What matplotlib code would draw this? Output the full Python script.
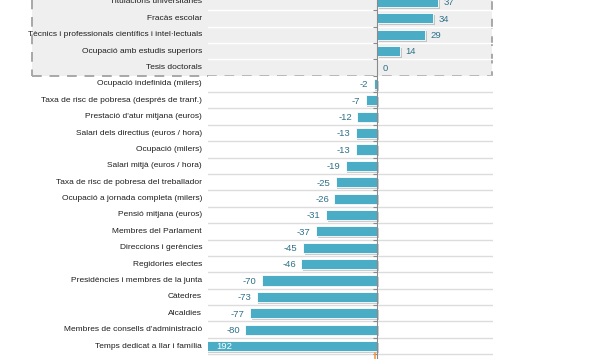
import matplotlib
matplotlib.use('Agg')
import matplotlib.pyplot as plt
import matplotlib.patheffects as pe
from matplotlib.patches import Rectangle
from matplotlib.transforms import blended_transform_factory

# Row labels, top to bottom
labels = [
    'Titulacions universitàries',
    'Fracàs escolar',
    'Tècnics i professionals científics i intel·lectuals',
    'Ocupació amb estudis superiors',
    'Tesis doctorals',
    'Ocupació indefinida (milers)',
    'Taxa de risc de pobresa (després de tranf.)',
    "Prestació d'atur mitjana (euros)",
    'Salari dels directius (euros / hora)',
    'Ocupació (milers)',
    'Salari mitjà (euros / hora)',
    'Taxa de risc de pobresa del treballador',
    'Ocupació a jornada completa (milers)',
    'Pensió mitjana (euros)',
    'Membres del Parlament',
    'Direccions i gerències',
    'Regidories electes',
    'Presidències i membres de la junta',
    'Càtedres',
    'Alcaldies',
    "Membres de consells d'administració",
    'Temps dedicat a llar i família',
]
values = [37, 34, 29, 14, 0, -2, -7, -12, -13, -13, -19, -25, -26, -31,
          -37, -45, -46, -70, -73, -77, -80, -192]
n_highlight = 5  # first rows inside the dashed box

BAR = '#4bacc6'
VAL = '#2f7189'
TXT = '#1e1e1e'
FONT = 'Liberation Sans'

W, H = 599, 359
fig = plt.figure(figsize=(W / 100, H / 100), dpi=100)
ax = fig.add_axes([208 / W, 0, (493 - 208) / W, 1])
ax.set_facecolor('none')

xmin, xmax = -102.5, 70.3
ax.set_xlim(xmin, xmax)
ax.set_ylim(21.79, -0.122)

# dashed highlight box (figure coords), drawn behind everything in the axes
box_bottom = 1 - 76 / H
box = Rectangle((32 / W, box_bottom), (492 - 32) / W, 1.1 - box_bottom,
                transform=fig.transFigure, facecolor='#efefef',
                edgecolor='#a8a8a8', linewidth=1.4, linestyle=(0, (5, 4)),
                zorder=0, clip_on=False)
ax.add_patch(box)

ys = list(range(len(labels)))

# row separators
for i in range(len(labels)):
    color = 'white' if i < n_highlight else '#dcdcdc'
    ax.axhline(i + 0.5, color=color, linewidth=1.0, zorder=1)

shadow = [pe.SimplePatchShadow(offset=(1.2, -1.2), shadow_rgbFace='#9a9a9a', alpha=0.5),
          pe.Normal()]
bars = ax.barh(ys, values, height=0.62, color=BAR, edgecolor='white',
               linewidth=0.6, zorder=3)
for b in bars:
    b.set_path_effects(shadow)

# zero axis
ax.spines[['top', 'right', 'bottom']].set_visible(False)
ax.spines['left'].set_position(('data', 0))
ax.spines['left'].set_color('#8a8a8a')
ax.spines['left'].set_zorder(4)
ax.set_yticks([i + 0.5 for i in range(len(labels))])
ax.set_yticklabels([])
ax.tick_params(axis='y', length=3, color='#8a8a8a', direction='out')
ax.set_xticks([])

# small orange marker at bottom of zero axis
ax.plot([-1.5, -1.5], [21.45, 21.79], color='#f39c4a', linewidth=1.2,
        zorder=5, clip_on=False)

trans = blended_transform_factory(fig.transFigure, ax.transData)
for y, lab in zip(ys, labels):
    ax.text(202 / W, y, lab, transform=trans, ha='right', va='center',
            fontsize=6.0, color=TXT, family=FONT, zorder=6)

for y, v in zip(ys, values):
    if v < xmin:
        ax.text(xmin + 5, y + 0.05, str(abs(v)), ha='left', va='center',
                fontsize=6.8, color='white', zorder=6, family=FONT)
    elif v >= 0:
        ax.text(v + 3.2, y + 0.05, str(v), ha='left', va='center',
                fontsize=6.8, color=VAL, family=FONT, zorder=6)
    else:
        ax.text(v - 3.2, y + 0.05, str(v), ha='right', va='center',
                fontsize=6.8, color=VAL, family=FONT, zorder=6)

fig.savefig('out.png', dpi=100)
